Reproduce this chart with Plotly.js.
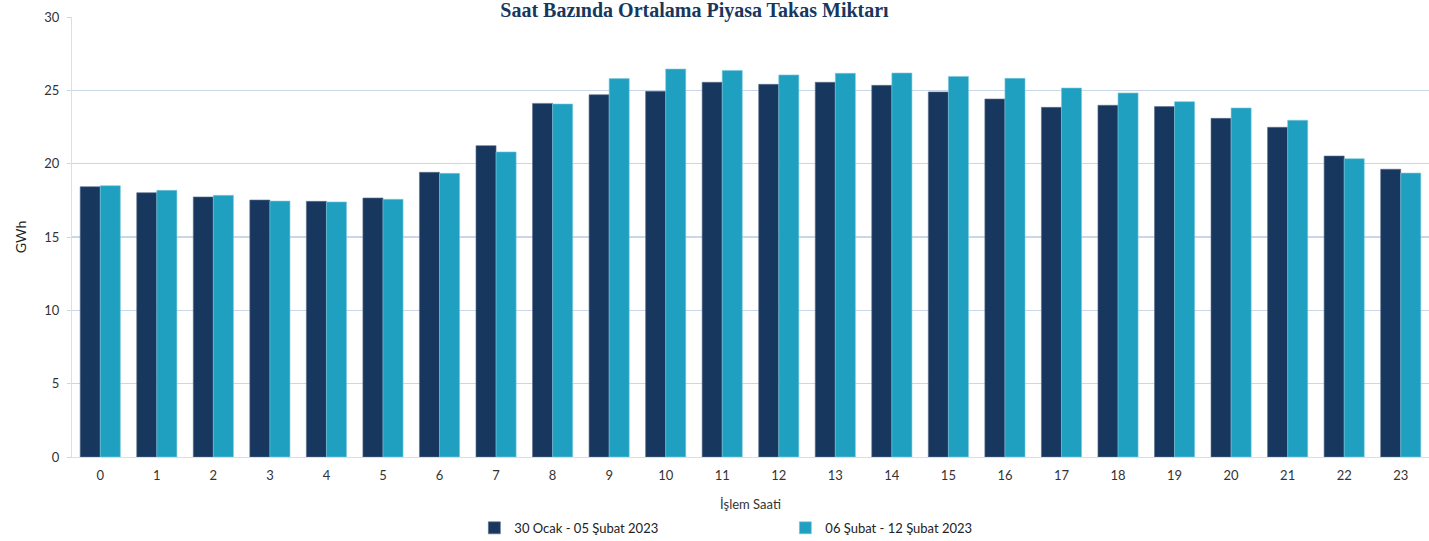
<!DOCTYPE html>
<html>
<head>
<meta charset="utf-8">
<script src="https://cdn.plot.ly/plotly-3.0.1.min.js"></script>
<style>html,body{margin:0;padding:0;background:#fff;}#chart{width:1429px;height:541px;}</style>
</head>
<body>
<div id="chart"></div>
<script>
const hours = ["0","1","2","3","4","5","6","7","8","9","10","11","12","13","14","15","16","17","18","19","20","21","22","23"];
const week1 = [18.43,18.02,17.73,17.52,17.43,17.66,19.41,21.23,24.11,24.70,24.93,25.55,25.41,25.55,25.34,24.89,24.41,23.84,23.98,23.89,23.09,22.48,20.52,19.62];
const week2 = [18.50,18.18,17.84,17.45,17.39,17.57,19.34,20.80,24.07,25.80,26.45,26.36,26.05,26.16,26.18,25.95,25.82,25.16,24.82,24.23,23.80,22.96,20.34,19.36];
const name1 = "30 Ocak - 05 Şubat 2023";
const name2 = "06 Şubat - 12 Şubat 2023";

const traces = [
  {type:"bar", x:hours, y:week1, name:name1, marker:{color:"#18375e", line:{color:"#5a6f8c", width:0.6}}},
  {type:"bar", x:hours, y:week2, name:name2, marker:{color:"#1fa0c1", line:{color:"#7cc7dc", width:0.6}}}
];
const font = "Lato, 'Open Sans', sans-serif";
const layout = {
  width:1429, height:541,
  margin:{l:72, r:0, t:17, b:84, autoexpand:false},
  paper_bgcolor:"#fff", plot_bgcolor:"#fff",
  font:{family:font, size:13, color:"#333"},
  title:{text:"Saat Bazında Ortalama Piyasa Takas Miktarı", x:0.486, xanchor:"center", yref:"container", y:1, yanchor:"top",
         pad:{t:3}, font:{family:"'Liberation Serif', serif", size:20, color:"#17375e", weight:"bold"}},
  barmode:"group", bargap:0.29, bargroupgap:0,
  xaxis:{type:"category", showgrid:false, showline:true, linecolor:"#d6dfea", linewidth:1,
         ticks:"", tickfont:{size:13, color:"#333"}, ticklabelstandoff:6,
         title:{text:"İşlem Saati", font:{size:13, color:"#333"}, standoff:18}},
  yaxis:{range:[0,30], dtick:5, showgrid:true, gridcolor:"#c9d7e9", gridwidth:1.5,
         showline:true, linecolor:"#d6dfea", linewidth:1, ticks:"outside", ticklen:4, tickcolor:"#c9d7e9",
         tickfont:{size:13, color:"#333"}, zeroline:false, ticklabelstandoff:5,
         title:{text:"GWh", font:{size:14, color:"#222"}, standoff:14}},
  legend:{orientation:"h", x:0.2965, xanchor:"left", y:-0.127, yanchor:"top", entrywidth:266, entrywidthmode:"pixels",
          font:{size:13, color:"#222"}, itemwidth:30},
  showlegend:true
};
Plotly.newPlot("chart", traces, layout, {displayModeBar:false, staticPlot:true});
</script>
</body>
</html>
